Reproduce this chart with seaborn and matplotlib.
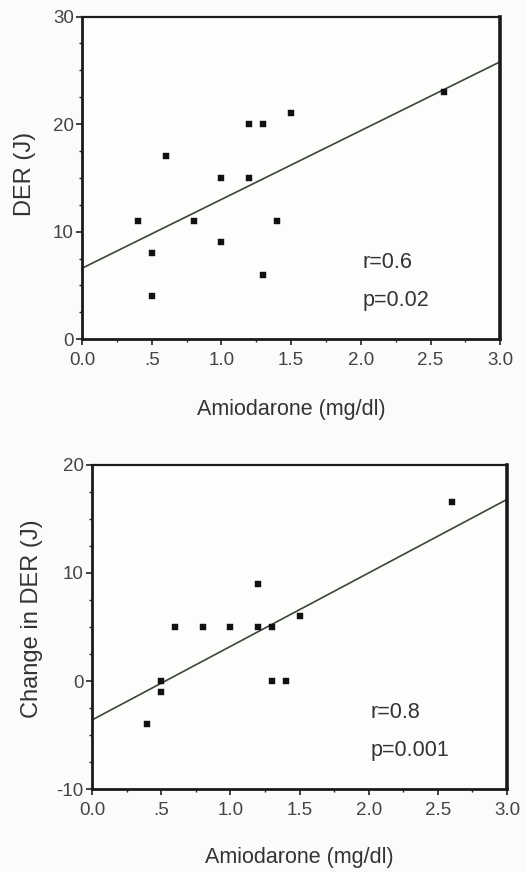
"""
Amiodarone level vs defibrillation energy requirement (DER)
Two stacked scatter panels with fitted lines
"""

import matplotlib
matplotlib.use("Agg")
import matplotlib.pyplot as plt
from matplotlib.ticker import MultipleLocator
import seaborn as sns


# Panel A: DER vs amiodarone
der_amio = [0.4, 0.5, 0.5, 0.6, 0.8, 1.0, 1.0, 1.2, 1.2, 1.3, 1.3, 1.4, 1.5, 2.6]
der_vals = [11, 8, 4, 17, 11, 15, 9, 20, 15, 20, 6, 11, 21, 23]
der_fit_x = [0.0, 3.0]
der_fit_y = [6.6, 25.8]

# Panel B: change in DER vs amiodarone
chg_amio = [0.4, 0.5, 0.5, 0.6, 0.8, 1.0, 1.2, 1.2, 1.3, 1.3, 1.4, 1.5, 2.6]
chg_vals = [-4, 0, -1, 5, 5, 5, 5, 9, 5, 0, 0, 6, 16.6]
chg_fit_x = [0.0, 3.0]
chg_fit_y = [-3.6, 16.8]

x_ticks = [0.0, 0.5, 1.0, 1.5, 2.0, 2.5, 3.0]
x_tick_labels = ["0.0", ".5", "1.0", "1.5", "2.0", "2.5", "3.0"]


sns.set_style("ticks")
plt.rcParams['font.family'] = ['Liberation Sans', 'DejaVu Sans']
plt.rcParams['axes.unicode_minus'] = False

fig = plt.figure(figsize=(5.26, 8.72), dpi=100)
fig.patch.set_facecolor("#fbfbf9")

ax1 = fig.add_axes([0.156, 0.611, 0.795, 0.370])
ax2 = fig.add_axes([0.175, 0.095, 0.789, 0.372])


"""
Draw one panel: scatter, fit line, stats text, axis styling
"""
def draw_panel(ax, xs, ys, fit_x, fit_y, ylim, yticks, ylabel, stats, stats_y,
               ylabel_pos, xlabel_y):

    ax.set_facecolor("#fdfdfc")
    ax.set_xlim(0, 3.0)
    ax.set_ylim(*ylim)

    # fitted regression line
    sns.lineplot(x=fit_x, y=fit_y, ax=ax, color="#3a463a", linewidth=1.2)

    # data points
    sns.scatterplot(x=xs, y=ys, ax=ax, marker="s", s=22, color="#111111",
                    edgecolor="#111111", linewidth=0.3, zorder=3)

    ax.set_xticks(x_ticks)
    ax.set_xticklabels(x_tick_labels)
    ax.set_yticks(yticks)
    ax.xaxis.set_minor_locator(MultipleLocator(0.25))
    ax.yaxis.set_minor_locator(MultipleLocator(2.5))

    ax.tick_params(axis="both", which="major", labelsize=13.5, colors="#222222",
                   labelcolor="#444444", length=4, width=1.2, pad=2)
    ax.tick_params(axis="both", which="minor", length=2.5, width=1.0, colors="#222222")
    ax.tick_params(axis="x", which="major", pad=5)

    for side in ["left", "bottom", "right", "top"]:
        ax.spines[side].set_visible(True)
        ax.spines[side].set_color("#1a1a1a")
        ax.spines[side].set_linewidth(2.0)
    ax.spines["right"].set_linewidth(2.6)
    ax.spines["top"].set_linewidth(1.6)

    ax.set_xlabel("Amiodarone (mg/dl)", fontsize=15.5, color="#333333")
    ax.xaxis.set_label_coords(0.5, xlabel_y)
    ax.set_ylabel(ylabel, fontsize=17, color="#333333")
    ax.yaxis.set_label_coords(*ylabel_pos)

    # correlation stats
    ax.text(2.01, stats_y[0], stats[0], fontsize=15.5, color="#333333", va="center")
    ax.text(2.01, stats_y[1], stats[1], fontsize=15.5, color="#333333", va="center")


draw_panel(ax1, der_amio, der_vals, der_fit_x, der_fit_y, (0, 30), [0, 10, 20, 30],
           "DER (J)", ["r=0.6", "p=0.02"], [7.1, 3.6], (-0.11, 0.511), -0.186)

draw_panel(ax2, chg_amio, chg_vals, chg_fit_x, chg_fit_y, (-10, 20), [-10, 0, 10, 20],
           "Change in DER (J)", ["r=0.8", "p=0.001"], [-2.9, -6.4], (-0.118, 0.525), -0.179)

plt.savefig("out.png", dpi=100, facecolor=fig.get_facecolor())
plt.close()
